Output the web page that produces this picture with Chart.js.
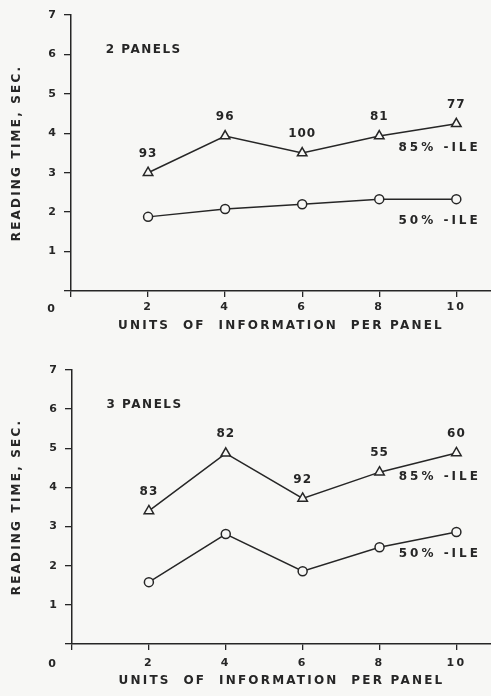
<!DOCTYPE html>
<html lang="en">
<head>
  <meta charset="UTF-8">
  <title>Reading time vs units of information per panel</title>
  <script src="https://cdn.jsdelivr.net/npm/chart.js"></script>
  <style>
    body {
      margin: 0;
      background: #f7f7f5;
    }
    .panel {
      position: absolute;
      left: 0;
      width: 491px;
    }
    #top { top: 0; height: 340px; }
    #bottom { top: 340px; height: 356px; }
  </style>
</head>
<body>

  <div class="panel" id="top"><canvas id="chartTop" width="491" height="340"></canvas></div>
  <div class="panel" id="bottom"><canvas id="chartBottom" width="491" height="356"></canvas></div>

  <script>
    // values
    const units = [2, 4, 6, 8, 10];
    const twoPanels85 = [3.0, 3.93, 3.5, 3.93, 4.24];
    const twoPanels50 = [1.88, 2.08, 2.2, 2.33, 2.33];
    const twoPanelsN = [93, 96, 100, 81, 77];
    const threePanels85 = [3.4, 4.87, 3.72, 4.39, 4.88];
    const threePanels50 = [1.58, 2.81, 1.86, 2.47, 2.86];
    const threePanelsN = [83, 82, 92, 55, 60];

    const ink = '#262626';
    const paper = '#f7f7f5';
    const face = '"DejaVu Sans", sans-serif';

    // numbers, curve names, panel name and the lone "0" at the origin
    const annotate = {
      id: 'annotate',
      beforeDraw(chart) {
        chart.ctx.letterSpacing = '2.2px';
      },
      afterDatasetsDraw(chart, args, opts) {
        const { ctx, scales: { x, y }, chartArea } = chart;
        const upper = chart.getDatasetMeta(0).data;
        const lower = chart.getDatasetMeta(1).data;
        ctx.save();
        ctx.fillStyle = ink;
        ctx.textBaseline = 'middle';

        ctx.font = 'bold 12px ' + face;
        ctx.letterSpacing = '1px';
        ctx.textAlign = 'center';
        opts.counts.forEach((n, i) => ctx.fillText(n, upper[i].x, upper[i].y - 19));

        ctx.textAlign = 'left';
        ctx.letterSpacing = '3px';
        const last = upper.length - 1;
        ctx.fillText('85% -ILE', x.getPixelForValue(8.5), upper[last].y + 24);
        ctx.fillText('50% -ILE', x.getPixelForValue(8.5), lower[last].y + 22);

        ctx.letterSpacing = '1.5px';
        ctx.fillText(opts.title, x.getPixelForValue(0.9), y.getPixelForValue(6.12));

        ctx.font = 'bold 11px ' + face;
        ctx.letterSpacing = '0px';
        ctx.textAlign = 'center';
        ctx.fillText('0', chartArea.left - 20, chartArea.bottom + opts.zeroDy);
        ctx.restore();
      }
    };

    function makeChart(id, title, s85, s50, counts, box) {
      const ctx = document.getElementById(id).getContext('2d');
      return new Chart(ctx, {
        type: 'line',
        data: {
          datasets: [{
            label: '85%-ile',
            data: units.map((u, i) => ({ x: u, y: s85[i] })),
            borderColor: ink,
            borderWidth: 1.5,
            pointStyle: 'triangle',
            pointRadius: 5.5,
            pointBorderWidth: 1.5,
            pointBorderColor: ink,
            pointBackgroundColor: paper
          }, {
            label: '50%-ile',
            data: units.map((u, i) => ({ x: u, y: s50[i] })),
            borderColor: ink,
            borderWidth: 1.5,
            pointStyle: 'circle',
            pointRadius: 4.5,
            pointBorderWidth: 1.5,
            pointBorderColor: ink,
            pointBackgroundColor: paper
          }]
        },
        options: {
          responsive: false,
          animation: false,
          devicePixelRatio: 1,
          layout: { autoPadding: false, padding: { top: box.top, left: 0, right: 0, bottom: 0 } },
          plugins: {
            legend: { display: false },
            tooltip: { enabled: false },
            annotate: { counts: counts, title: title, zeroDy: box.zeroDy }
          },
          scales: {
            x: {
              type: 'linear',
              min: 0,
              max: 10.9,
              afterFit: s => { s.height = box.xHeight; },
              ticks: {
                stepSize: 2,
                includeBounds: false,
                color: ink,
                padding: box.xTickPad,
                font: { family: face, size: 11, weight: 'bold' },
                callback: v => v === 0 ? '' : v
              },
              grid: { drawOnChartArea: false, tickLength: 6, color: ink, lineWidth: 1.3 },
              border: { color: ink, width: 1.5 },
              title: {
                display: true,
                text: 'UNITS  OF  INFORMATION  PER PANEL',
                color: ink,
                font: { family: face, size: 12, weight: 'bold' },
                padding: { top: 0, bottom: box.xTitlePad }
              }
            },
            y: {
              min: 0,
              max: 7,
              afterFit: s => { s.width = box.yWidth; },
              ticks: {
                stepSize: 1,
                color: ink,
                padding: 6,
                font: { family: face, size: 11, weight: 'bold' },
                callback: v => v === 0 ? '' : v
              },
              grid: { drawOnChartArea: false, tickLength: 7, color: ink, lineWidth: 1.3 },
              border: { color: ink, width: 1.5 },
              title: {
                display: true,
                text: 'READING TIME, SEC.',
                color: ink,
                font: { family: face, size: 12, weight: 'bold' },
                padding: { top: 10, bottom: 0 }
              }
            }
          }
        },
        plugins: [annotate]
      });
    }

    makeChart('chartTop', '2 PANELS', twoPanels85, twoPanels50, twoPanelsN,
      { top: 15, xHeight: 49, yWidth: 71, xTickPad: 4, xTitlePad: 7, zeroDy: 18 });
    makeChart('chartBottom', '3 PANELS', threePanels85, threePanels50, threePanelsN,
      { top: 30, xHeight: 52, yWidth: 72, xTickPad: 7, xTitlePad: 8, zeroDy: 20 });
  </script>

</body>
</html>
